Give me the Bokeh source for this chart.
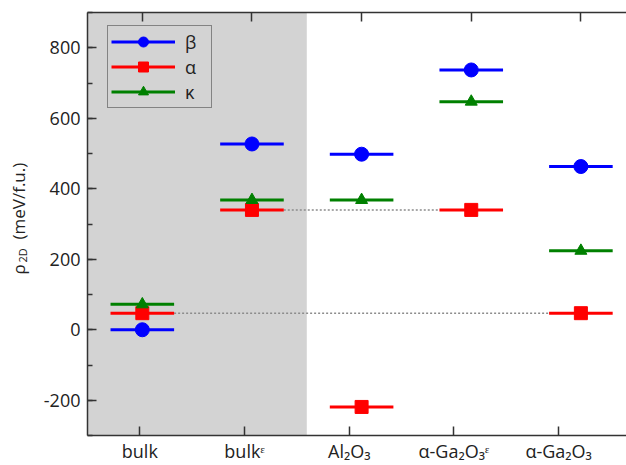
from bokeh.plotting import figure
from bokeh.layouts import row
from bokeh.models import (Range1d, LinearAxis, FixedTicker, SingleIntervalTicker,
                          BoxAnnotation, Legend, LegendItem, Label, ColumnDataSource)
from bokeh.embed import file_html
from bokeh.resources import INLINE

# ---- data ----
categories = ["bulk", "bulkᵋ", "Al₂O₃", "α-Ga₂O₃ᵋ", "α-Ga₂O₃"]
beta = [0, 527, 498, 737, 463]
alpha = [47, 340, -219, 340, 47]
kappa = [72, 368, 368, 647, 224]
series_names = ["β", "α", "κ"]
y_ticks = [-200, 0, 200, 400, 600, 800]

positions = list(range(1, len(categories) + 1))
HW = 0.29
FONT = "Open Sans"
AX = "#333333"
TXT = "#222222"

LABEL_W = 40

p = figure(width=626 - LABEL_W, height=465,
           x_range=Range1d(0.5, 5.416), y_range=Range1d(-300, 900),
           extra_x_ranges={"bottom": Range1d(0.5, 5.648)},
           x_axis_location=None, y_axis_location=None,
           output_backend="svg", toolbar_location=None,
           min_border_left=86 - LABEL_W, min_border_right=0,
           min_border_top=12, min_border_bottom=29)
p.grid.visible = False
p.outline_line_color = None
p.background_fill_color = "white"
p.border_fill_color = "white"


def style(ax):
    ax.axis_line_color = AX
    ax.axis_line_width = 1.5
    ax.major_tick_in = 9
    ax.major_tick_out = 0
    ax.minor_tick_in = 5
    ax.minor_tick_out = 0
    ax.major_tick_line_color = AX
    ax.major_tick_line_width = 1.5
    ax.minor_tick_line_color = AX
    ax.minor_tick_line_width = 1.5
    ax.major_label_text_font = FONT
    ax.major_label_text_color = TXT
    ax.major_label_text_font_size = "18px"


# left axis
yax = LinearAxis(ticker=SingleIntervalTicker(interval=200, num_minor_ticks=2))
yax.major_label_overrides = {t: str(t) for t in y_ticks}
style(yax)
yax.major_label_standoff = 7
p.add_layout(yax, "left")

# bottom axis (category labels)
xax = LinearAxis(x_range_name="bottom", ticker=FixedTicker(ticks=positions))
xax.major_label_overrides = {pos: cat for pos, cat in zip(positions, categories)}
style(xax)
xax.major_label_standoff = 3
p.add_layout(xax, "below")

# top axis (ticks only)
tax = LinearAxis(ticker=FixedTicker(ticks=positions))
style(tax)
tax.major_label_overrides = {pos: "" for pos in positions}
tax.major_label_standoff = 0
p.add_layout(tax, "above")

# shaded bulk region
p.add_layout(BoxAnnotation(right=2.5, fill_color="#d3d3d3", fill_alpha=1.0,
                           line_color=None, level="underlay"))

# dotted guide lines connecting equal alpha levels
p.segment(x0=[positions[0] + HW, positions[1] + HW],
          x1=[positions[4] - HW, positions[3] - HW],
          y0=[alpha[0], alpha[1]], y1=[alpha[4], alpha[3]],
          line_color="#8c8c8c", line_width=1.5, line_dash="2 2")

src = ColumnDataSource(dict(
    x=positions,
    x0=[x - HW for x in positions],
    x1=[x + HW for x in positions],
    beta=beta, alpha=alpha, kappa=kappa,
))

specs = [("beta", "#0000ff", "circle", 14),
         ("alpha", "#ff0000", "square", 13),
         ("kappa", "#008000", "triangle", 12)]
items = []
for (col, color, marker, size), name in zip(specs, series_names):
    seg = p.segment(x0="x0", x1="x1", y0=col, y1=col, source=src,
                    line_color=color, line_width=3)
    sc = p.scatter(x="x", y=col, source=src, marker=marker, size=size,
                   fill_color=color, line_color=color)
    items.append(LegendItem(label=name, renderers=[seg, sc]))

legend = Legend(items=items, location=(20, 327),
                glyph_width=64, glyph_height=25, spacing=0, padding=3,
                label_standoff=10, label_width=23,
                label_text_font=FONT, label_text_font_size="18px",
                label_text_color=TXT,
                border_line_color=AX, border_line_width=1.5,
                background_fill_alpha=0)
p.add_layout(legend)

# ---- y-axis title: rho_2D (meV/f.u.), drawn in a narrow strip figure on the left ----
# (its frame is aligned with the main frame by the row layout)
lab = figure(width=LABEL_W, height=465, x_range=Range1d(0, LABEL_W), y_range=Range1d(0, 424),
             x_axis_location=None, y_axis_location=None,
             output_backend="svg", toolbar_location=None,
             min_border_left=0, min_border_right=0, min_border_top=12, min_border_bottom=29)
lab.grid.visible = False
lab.outline_line_color = None
lab.background_fill_color = "white"
lab.border_fill_color = "white"
common = dict(x_units="screen", y_units="screen", angle=90, angle_units="deg",
              text_align="left", text_baseline="middle", text_font=FONT, text_color=TXT)
lab.add_layout(Label(x=17.5, y=161, text="ρ", text_font_size="17px", **common))
lab.add_layout(Label(x=21.5, y=173, text="2D", text_font_size="11px", **common))
lab.add_layout(Label(x=17.5, y=196, text="(meV/f.u.)", text_font_size="17px", **common))

open("out.html", "w").write(file_html(row(lab, p), INLINE))
